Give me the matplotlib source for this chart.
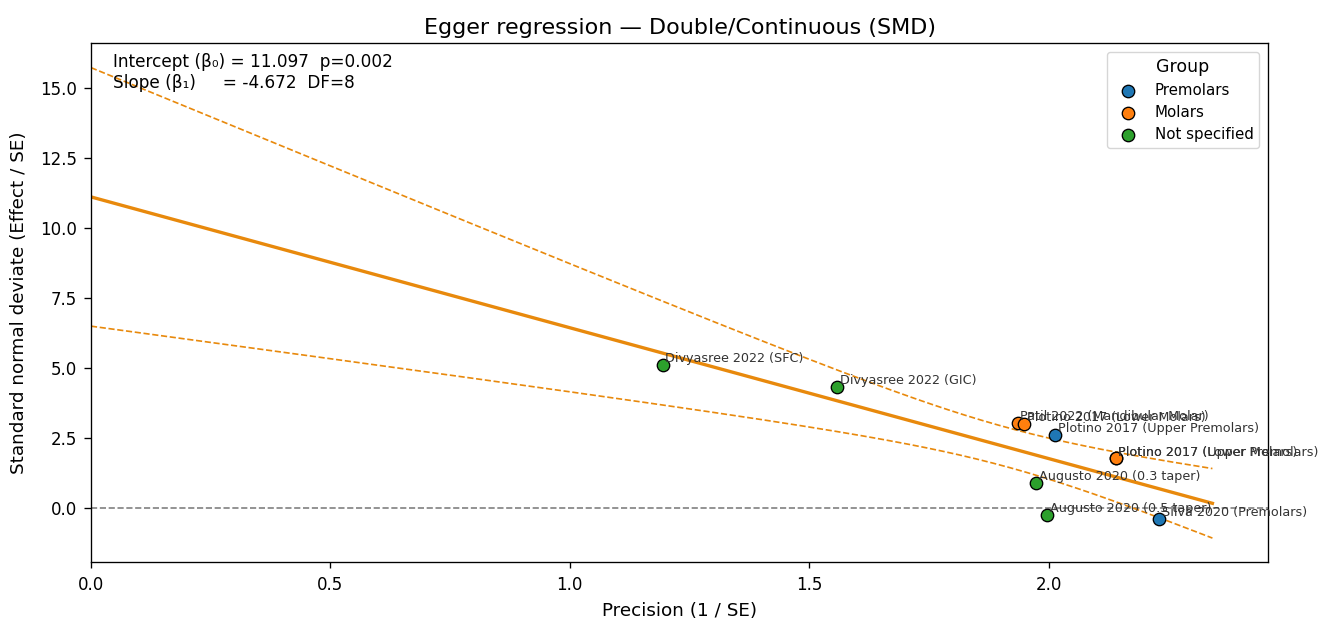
import numpy as np
import matplotlib.pyplot as plt

# studies
studies = ['Divyasree 2022 (SFC)', 'Divyasree 2022 (GIC)', 'Patil 2022 (Mandibular Molar)',
           'Plotino 2017 (Lower Molars)', 'Plotino 2017 (Upper Premolars)', 'Plotino 2017 (Lower Premolars)',
           'Plotino 2017 (Upper Molars)', 'Augusto 2020 (0.3 taper)', 'Augusto 2020 (0.5 taper)',
           'Silva 2020 (Premolars)']
groups = ['Not specified', 'Not specified', 'Molars', 'Molars', 'Premolars', 'Premolars',
          'Molars', 'Not specified', 'Not specified', 'Premolars']
precision = [1.194, 1.559, 1.935, 1.948, 2.013, 2.140, 2.140, 1.973, 1.996, 2.230]
snd = [5.11, 4.32, 3.04, 2.98, 2.61, 1.76, 1.76, 0.89, -0.25, -0.39]

intercept = 11.097
slope = -4.672
p_val = 0.002
dof = 8

group_order = ['Premolars', 'Molars', 'Not specified']
group_colors = {'Premolars': '#1f77b4', 'Molars': '#ff7f0e', 'Not specified': '#2ca02c'}
line_color = '#e8890c'

x = np.array(precision)
y = np.array(snd)

# 95% band around the regression line
resid = y - (intercept + slope * x)
s = np.sqrt(np.sum(resid ** 2) / dof)
xbar = x.mean()
sxx = np.sum((x - xbar) ** 2)
z = 1.96
xs = np.linspace(0, 2.342, 200)
fit = intercept + slope * xs
half = z * s * np.sqrt(1 / len(x) + (xs - xbar) ** 2 / sxx)

sc = 1.2  # reference looks like dpi 120 output
plt.rcParams['axes.linewidth'] = 0.8 * sc
plt.rcParams['xtick.major.width'] = 0.8 * sc
plt.rcParams['ytick.major.width'] = 0.8 * sc
plt.rcParams['xtick.major.size'] = 4.5
plt.rcParams['ytick.major.size'] = 5
plt.rcParams['xtick.major.pad'] = 5.5
plt.rcParams['ytick.major.pad'] = 5

fig = plt.figure(figsize=(13.26, 6.2), dpi=100)
ax = fig.add_axes([0.0686, 0.094, 0.888, 0.837])

ax.axhline(0, color='gray', ls='--', lw=1 * sc)
ax.plot(xs, fit, color=line_color, lw=2 * sc)
ax.plot(xs, fit + half, color=line_color, ls='--', lw=1 * sc)
ax.plot(xs, fit - half, color=line_color, ls='--', lw=1 * sc)

for g in group_order:
    idx = [i for i, gg in enumerate(groups) if gg == g]
    ax.scatter(x[idx], y[idx], s=80, color=group_colors[g], edgecolor='black', lw=0.8 * sc,
               label=g, zorder=3)

for i, name in enumerate(studies):
    ax.annotate(name, (x[i], y[i]), xytext=(2, 2), textcoords='offset points', fontsize=9.2,
                color='#333333', zorder=4)

ax.text(0.019, 0.98, f'Intercept (β₀) = {intercept:.3f}  p={p_val:.3f}\nSlope (β₁)     = {slope:.3f}  DF={dof}',
        transform=ax.transAxes, va='top', ha='left', fontsize=12.2)

ax.set_xlim(0, 2.459)
ax.set_ylim(-1.93, 16.6)
ax.set_xlabel('Precision (1 / SE)', fontsize=13.2, labelpad=6)
ax.set_ylabel('Standard normal deviate (Effect / SE)', fontsize=13.2, labelpad=9)
ax.set_title('Egger regression — Double/Continuous (SMD)', fontsize=16)
ax.tick_params(labelsize=12)
leg = ax.legend(title='Group', loc='upper right', fontsize=10.8, title_fontsize=12.5,
                labelspacing=0.48, borderaxespad=0.6)

plt.savefig('out.png', dpi=100)
